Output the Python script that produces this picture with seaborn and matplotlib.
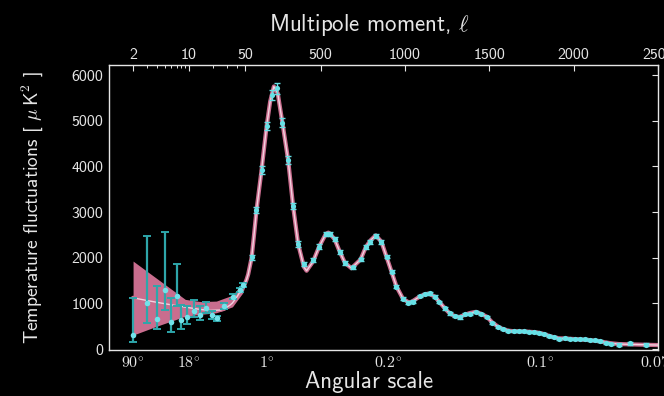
import numpy as np
import matplotlib
matplotlib.use("Agg")
import matplotlib.pyplot as plt
from matplotlib.ticker import FixedLocator, NullFormatter
import seaborn as sns

# ---------------------------------------------------------------------------
# Best-fit model curve, D_ell in muK^2
theory_ell = [2, 3.25, 5.3, 8.5, 13.7, 18.3, 24.4, 27.4, 32.5, 35, 40, 43.4, 47,
              50, 60, 70, 90, 103, 119, 149, 179, 200, 222, 245, 273, 307, 336,
              366, 400, 416, 455, 490, 530, 545, 554, 583, 613, 643, 682, 736,
              767, 795, 826, 860, 890, 920, 949, 988, 1018, 1035, 1087, 1117,
              1140, 1176, 1202, 1236, 1265, 1295, 1320, 1354, 1384, 1419, 1453,
              1486, 1518, 1552, 1581, 1611, 1645, 1676, 1704, 1735, 1763, 1795,
              1822, 1854, 1882, 1913, 1947, 1977, 2006, 2036, 2065, 2095, 2125,
              2154, 2190, 2224, 2269, 2332, 2427, 2500]
theory_D = [1123, 1051, 985, 926, 869, 847, 855, 880, 960, 1010, 1150, 1250, 1360,
            1430, 1520, 1640, 2000, 2450, 3040, 3920, 4880, 5420, 5750, 5600, 4950,
            4130, 3130, 2300, 1800, 1715, 1920, 2240, 2520, 2550, 2530, 2400, 2130,
            1890, 1770, 1960, 2230, 2380, 2490, 2350, 2020, 1690, 1370, 1100, 1030,
            1025, 1150, 1200, 1215, 1150, 1040, 890, 780, 720, 700, 750, 790, 815,
            770, 705, 580, 490, 435, 405, 390, 388, 385, 380, 372, 357, 330, 290,
            258, 235, 232, 226, 219, 212, 205, 196, 184, 168, 146, 126, 110, 104,
            94, 88]

# Cosmic-variance band at large angular scales
band_ell = [2, 4, 9, 14, 22, 35, 47, 60]
band_hi = [1927, 1540, 1088, 1040, 1051, 1180, 1450, 1560]
band_lo = [307, 504, 720, 760, 796, 926, 1230, 1480]

# Low-ell measurements with asymmetric errors
low_ell = [2, 3, 4, 5, 6, 7, 8, 9.5, 11.5, 13.7, 16.3, 19.2, 22.6, 27.4, 35.2, 43.4, 46.9]
low_D = [307, 1014, 650, 1292, 598, 1160, 635, 707, 832, 744, 891, 744, 672, 941, 1146, 1292, 1401]
low_err_lo = [154, 438, 219, 438, 219, 219, 204, 160, 125, 109, 110, 80, 60, 60, 50, 50, 50]
low_err_hi = [810, 1460, 730, 1277, 512, 701, 328, 234, 241, 197, 145, 80, 60, 60, 50, 50, 50]

# Binned high-ell measurements
high_ell = [90, 119, 149, 179, 212, 238, 273, 307, 336, 366, 400, 455, 490, 530, 554,
            583, 613, 643, 692, 736, 767, 795, 827, 860, 890, 920, 949, 988, 1018,
            1048, 1087, 1117, 1147, 1176, 1202, 1236, 1265, 1295, 1324, 1354, 1384,
            1419, 1453, 1486, 1518, 1552, 1581, 1611, 1645, 1676, 1704, 1735, 1763,
            1795, 1822, 1854, 1882, 1913, 1947, 1977, 2006, 2036, 2065, 2095, 2125,
            2154, 2190, 2224, 2269, 2332, 2427]
high_D = [2008, 3044, 3920, 4883, 5562, 5708, 4955, 4138, 3131, 2299, 1861, 1949, 2240,
          2518, 2518, 2402, 2131, 1890, 1789, 1964, 2240, 2350, 2474, 2350, 2022, 1693,
          1364, 1100, 1014, 1036, 1160, 1204, 1219, 1145, 1036, 891, 781, 723, 694, 766,
          766, 817, 766, 708, 576, 489, 431, 401, 387, 387, 387, 379, 372, 357, 328, 285,
          256, 226, 241, 226, 219, 212, 212, 197, 197, 169, 138, 109, 94, 125, 94]
high_err = [60, 70, 80, 90, 110, 120, 100, 90, 70, 60, 50, 50, 50, 50, 50, 45, 45, 40,
            40, 40, 40, 40, 40, 40, 35, 35, 30, 30, 30, 30, 30, 30, 30, 30, 25, 25, 25,
            25, 25, 25, 25, 25, 25, 25, 20, 20, 20, 20, 20, 20, 20, 20, 20, 20, 20, 20,
            20, 20, 20, 20, 20, 20, 20, 22, 22, 24, 26, 28, 30, 32, 36]

# Tick labels
top_ticks = [2, 10, 50, 500, 1000, 1500, 2000, 2500]
top_labels = ["2", "10", "50", "500", "1000", "1500", "2000", "2500"]
bottom_ticks = [2, 10, 180, 900, 1800, 2500]
bottom_labels = [r"$\mathsf{90}^{\circ}$", r"$\mathsf{18}^{\circ}$", r"$\mathsf{1}^{\circ}$",
                 r"$\mathsf{0.2}^{\circ}$", r"$\mathsf{0.1}^{\circ}$", r"$\mathsf{0.07}^{\circ}$"]
minor_ticks = [3, 4, 5, 6, 7, 8, 9, 20, 30, 40]
y_ticks = [0, 1000, 2000, 3000, 4000, 5000, 6000]

# ---------------------------------------------------------------------------
FG = "#e6e6e6"
PINK = "#c96d8e"
CURVE_CORE = "#f3d3e0"
CYAN = "#66e0e6"
TEAL = "#2ea6aa"

sns.set_theme(style="dark", rc={
    "figure.facecolor": "black",
    "axes.facecolor": "black",
    "savefig.facecolor": "black",
    "axes.edgecolor": FG,
    "axes.labelcolor": FG,
    "xtick.color": FG,
    "ytick.color": FG,
    "text.color": FG,
    "axes.grid": False,
})
plt.rcParams["font.family"] = ["cmss10", "DejaVu Sans"]
plt.rcParams["mathtext.fontset"] = "cm"
plt.rcParams["axes.unicode_minus"] = False
plt.rcParams["axes.formatter.use_mathtext"] = False

# Multipole axis: logarithmic up to ell = 50, linear beyond
L_SPLIT = 50.0
SLOPE = 0.1687 / 80.0


def fwd(x):
    x = np.asarray(x, dtype=float)
    lg = np.log10(np.clip(x, 1e-6, None))
    return np.where(x <= L_SPLIT, lg, np.log10(L_SPLIT) + (x - L_SPLIT) * SLOPE)


def inv(u):
    u = np.asarray(u, dtype=float)
    us = np.log10(L_SPLIT)
    return np.where(u <= us, 10 ** np.minimum(u, us), L_SPLIT + (u - us) / SLOPE)


fig = plt.figure(figsize=(6.64, 3.96), dpi=100)
rect = [109 / 664, 1 - 350 / 396, 549 / 664, 285 / 396]
ax = fig.add_axes(rect)
ax.set_xscale("function", functions=(fwd, inv))
ax.set_xlim(1, 2500)
ax.set_ylim(-20, 6220)

ax.fill_between(band_ell, band_lo, band_hi, color=PINK, lw=0, zorder=1)
sns.lineplot(x=theory_ell, y=theory_D, color=PINK, lw=3.0, ax=ax, zorder=2)
sns.lineplot(x=theory_ell, y=theory_D, color=CURVE_CORE, lw=1.0, ax=ax, zorder=3)

ax.errorbar(low_ell, low_D, yerr=[low_err_lo, low_err_hi], fmt="none",
            ecolor=TEAL, elinewidth=1.6, capsize=3, capthick=1.4, zorder=4)
ax.errorbar(high_ell, high_D, yerr=high_err, fmt="none",
            ecolor=CYAN, elinewidth=1.0, capsize=2, capthick=1.0, zorder=4)
sns.scatterplot(x=low_ell, y=low_D, color="#72e2ea", s=16, linewidth=0, ax=ax, zorder=5)
sns.scatterplot(x=high_ell, y=high_D, color=CYAN, s=14, linewidth=0, ax=ax, zorder=5)

# Bottom axis: angular scale
ax.xaxis.set_major_locator(FixedLocator(bottom_ticks))
ax.set_xticklabels(bottom_labels)
ax.xaxis.set_minor_locator(FixedLocator(minor_ticks))
ax.xaxis.set_minor_formatter(NullFormatter())
ax.set_yticks(y_ticks)
ax.set_yticklabels([str(v) for v in y_ticks])
ax.tick_params(axis="both", which="major", direction="in", length=4, width=0.8,
               labelsize=11.5, right=True, pad=4)
ax.tick_params(axis="x", which="minor", direction="in", length=2.5, width=0.7)
for s in ax.spines.values():
    s.set_color(FG)
    s.set_linewidth(1.0)
ax.set_xlabel("Angular scale", fontsize=16.5, labelpad=0, x=0.4736)
ax.set_ylabel(r"Temperature fluctuations [ $\mu\,\mathsf{K}^2$ ]", fontsize=14, labelpad=19)

# Top axis: multipole moment
ax_top = fig.add_axes(rect, frameon=False)
ax_top.patch.set_alpha(0)
ax_top.set_xscale("function", functions=(fwd, inv))
ax_top.set_xlim(1, 2500)
ax_top.set_ylim(ax.get_ylim())
ax_top.yaxis.set_visible(False)
ax_top.xaxis.set_ticks_position("top")
ax_top.xaxis.set_label_position("top")
ax_top.xaxis.set_major_locator(FixedLocator(top_ticks))
ax_top.set_xticklabels(top_labels)
ax_top.xaxis.set_minor_locator(FixedLocator(minor_ticks))
ax_top.xaxis.set_minor_formatter(NullFormatter())
ax_top.tick_params(axis="x", which="major", direction="in", length=4, width=0.8,
                   labelsize=11.5, pad=2.5)
ax_top.tick_params(axis="x", which="minor", direction="in", length=2.5, width=0.7)
ax_top.set_xlabel(r"Multipole moment, $\ell$", fontsize=16.5, labelpad=12, x=0.4736)

fig.savefig("out.png", dpi=100, facecolor="black")
